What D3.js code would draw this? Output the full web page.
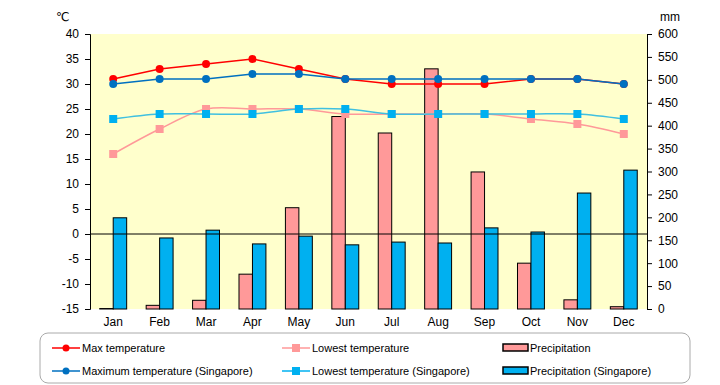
<!DOCTYPE html>
<html><head><meta charset="utf-8">
<script src="https://cdn.jsdelivr.net/npm/d3@7"></script>
<style>
body{margin:0;background:#fff;}
text{font-family:"Liberation Sans","DejaVu Sans",sans-serif;}
</style></head>
<body><svg id="c" width="720" height="385"></svg>
<script>
const months = ["Jan","Feb","Mar","Apr","May","Jun","Jul","Aug","Sep","Oct","Nov","Dec"];
const maxTemp = [31,33,34,35,33,31,30,30,30,31,31,30];
const lowTemp = [16,21,25,25,25,24,24,24,24,23,22,20];
const precip = [1,8,19,76,221,420,384,524,299,100,20,5];
const maxTempSg = [30,31,31,32,32,31,31,31,31,31,31,30];
const lowTempSg = [23,24,24,24,25,25,24,24,24,24,24,23];
const precipSg = [199,155,172,142,159,140,146,144,177,168,253,303];
const leftTicks = [-15,-10,-5,0,5,10,15,20,25,30,35,40];
const rightTicks = [0,50,100,150,200,250,300,350,400,450,500,550,600];

const svg = d3.select("#c");
const L = 90, R = 647, T = 34, B = 309;

const x = d3.scaleBand().domain(months).range([L, R]).paddingInner(0.42).paddingOuter(0.21);
const xs = d3.scaleBand().domain(["a","b"]).range([0, x.bandwidth()]);
const yL = d3.scaleLinear().domain([-15, 40]).range([B, T]);
const yR = d3.scaleLinear().domain([0, 600]).range([B, T]);
const cx = m => x(m) + x.bandwidth()/2;

svg.append("rect").attr("x", L).attr("y", T).attr("width", R-L).attr("height", B-T).attr("fill", "#ffffcc");

// bars
const bars = (vals, key, color) => svg.append("g").selectAll("rect").data(months).join("rect")
  .attr("x", m => x(m) + xs(key)).attr("width", xs.bandwidth())
  .attr("y", (m,i) => yR(vals[i])).attr("height", (m,i) => B - yR(vals[i]))
  .attr("fill", color).attr("stroke", "#000").attr("stroke-width", 1);
bars(precip, "a", "#ff9999");
bars(precipSg, "b", "#00b0f0");

// zero line
svg.append("line").attr("x1", L).attr("x2", R).attr("y1", yL(0)).attr("y2", yL(0)).attr("stroke", "#000");

// axes
const ga = svg.append("g").attr("transform", `translate(${L},0)`)
  .call(d3.axisLeft(yL).tickValues(leftTicks).tickSize(5).tickPadding(6).tickFormat(d => d < 0 ? "-" + Math.abs(d) : d));
const gb = svg.append("g").attr("transform", `translate(${R},0)`)
  .call(d3.axisRight(yR).tickValues(rightTicks).tickSize(5).tickPadding(6));
[ga, gb].forEach(g => {
  g.select(".domain").attr("stroke", "#000");
  g.selectAll("text").attr("font-size", 12).attr("fill", "#000");
});
const gx = svg.append("g").attr("transform", `translate(0,${B})`)
  .call(d3.axisBottom(x).tickSize(0).tickPadding(8));
gx.select(".domain").remove();
gx.selectAll("text").attr("font-size", 12).attr("fill", "#000");

svg.append("text").attr("x", 56).attr("y", 21).attr("font-size", 12).text("℃");
svg.append("text").attr("x", 660).attr("y", 21).attr("font-size", 12).text("mm");

// lines
function series(vals, color, lineColor, shape, curve) {
  const line = d3.line().x((d,i) => cx(months[i])).y(d => yL(d)).curve(curve);
  svg.append("path").datum(vals).attr("d", line).attr("fill", "none").attr("stroke", lineColor).attr("stroke-width", 1.5);
  const g = svg.append("g");
  if (shape === "circle") {
    g.selectAll("circle").data(vals).join("circle").attr("cx", (d,i) => cx(months[i])).attr("cy", d => yL(d)).attr("r", 4).attr("fill", color);
  } else {
    g.selectAll("rect").data(vals).join("rect").attr("x", (d,i) => cx(months[i]) - 4).attr("y", d => yL(d) - 4).attr("width", 8).attr("height", 8).attr("fill", color);
  }
}
series(maxTemp, "#ff0000", "#ff0000", "circle", d3.curveLinear);
series(lowTemp, "#ff9999", "#ff9999", "square", d3.curveCatmullRom);
series(maxTempSg, "#0070c0", "#0070c0", "circle", d3.curveLinear);
series(lowTempSg, "#00b0f0", "#40c0e0", "square", d3.curveCatmullRom);

// legend
svg.append("rect").attr("x", 40).attr("y", 333).attr("width", 650).attr("height", 50).attr("rx", 8)
  .attr("fill", "#fff").attr("stroke", "#aaa").attr("stroke-width", 1);
const legend = [
  {label:"Max temperature", type:"circle", color:"#ff0000", x:52, y:348},
  {label:"Lowest temperature", type:"square", color:"#ff9999", x:282, y:348},
  {label:"Precipitation", type:"bar", color:"#ff9999", x:503, y:348},
  {label:"Maximum temperature (Singapore)", type:"circle", color:"#0070c0", x:52, y:371},
  {label:"Lowest temperature (Singapore)", type:"square", color:"#00b0f0", x:282, y:371},
  {label:"Precipitation (Singapore)", type:"bar", color:"#00b0f0", x:503, y:371}
];
legend.forEach(d => {
  const g = svg.append("g");
  if (d.type === "bar") {
    g.append("rect").attr("x", d.x).attr("y", d.y - 4).attr("width", 25).attr("height", 7).attr("fill", d.color).attr("stroke", "#000").attr("stroke-width", 1.5);
    g.append("text").attr("x", d.x + 27).attr("y", d.y + 4).attr("font-size", 11).text(d.label);
  } else {
    g.append("line").attr("x1", d.x).attr("x2", d.x + 28).attr("y1", d.y).attr("y2", d.y).attr("stroke", d.color).attr("stroke-width", 1.5);
    if (d.type === "circle") g.append("circle").attr("cx", d.x + 14).attr("cy", d.y).attr("r", 3.5).attr("fill", d.color);
    else g.append("rect").attr("x", d.x + 10).attr("y", d.y - 4).attr("width", 8).attr("height", 8).attr("fill", d.color);
    g.append("text").attr("x", d.x + 30).attr("y", d.y + 4).attr("font-size", 11).text(d.label);
  }
});
</script></body></html>
